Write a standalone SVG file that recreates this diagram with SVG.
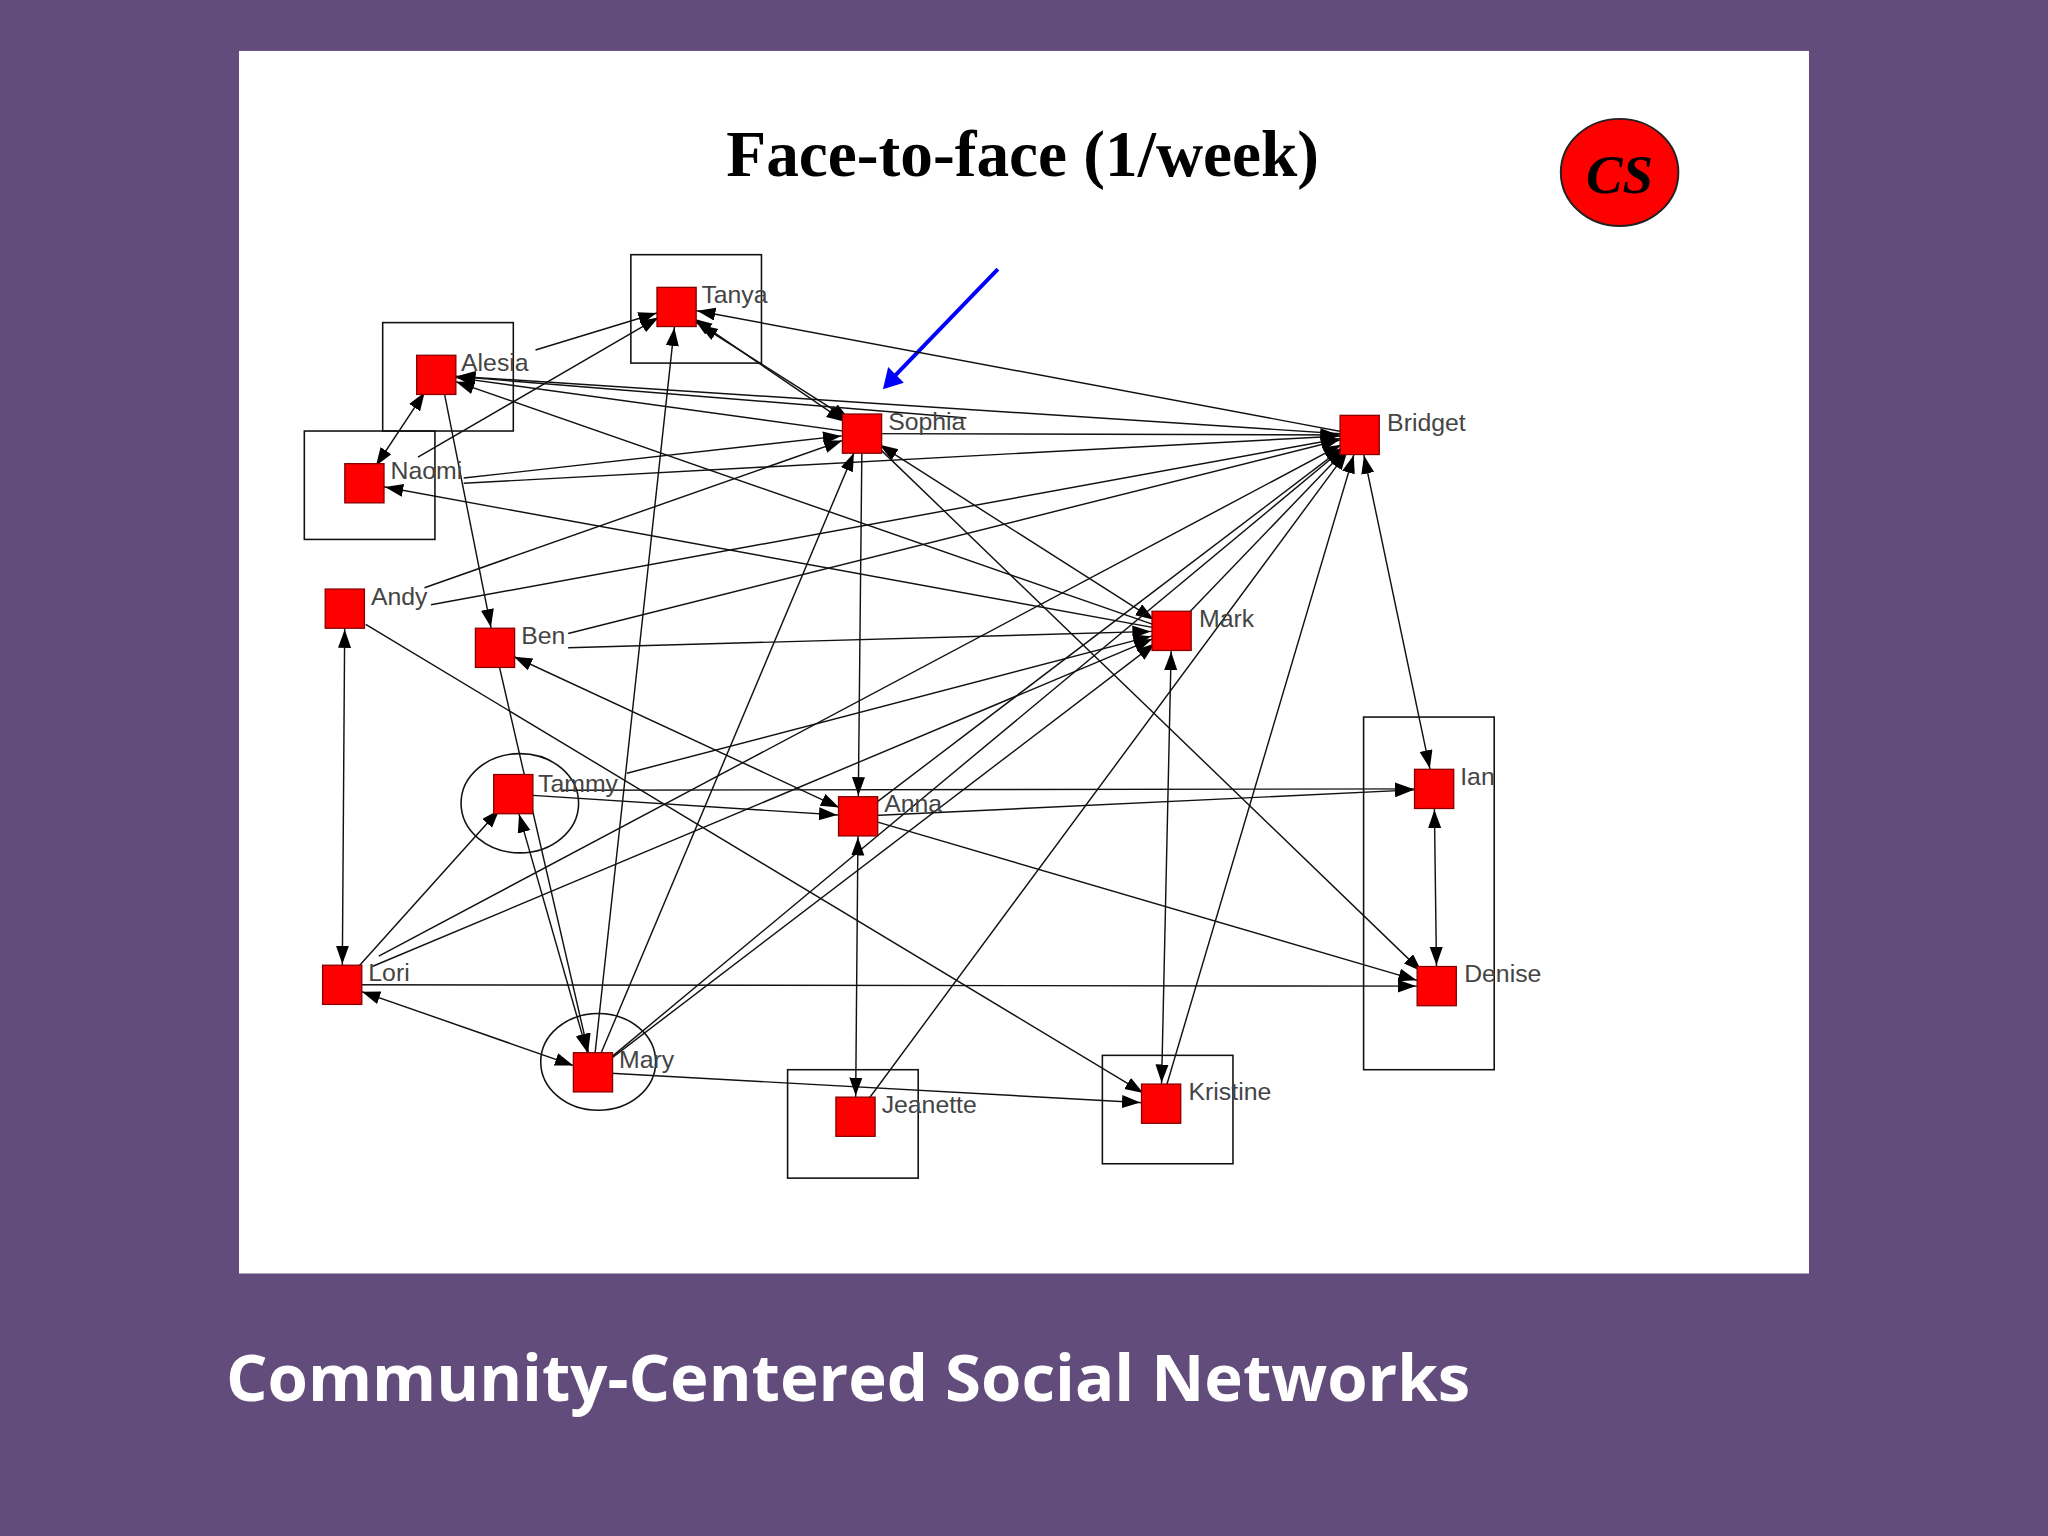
<svg xmlns="http://www.w3.org/2000/svg" width="2048" height="1536" viewBox="0 0 2048 1536">
<style>
.e{stroke:#111;stroke-width:1.1;fill:none;marker-end:url(#ah)}
.b{stroke:#111;stroke-width:1.1;fill:none;marker-end:url(#ah);marker-start:url(#ah)}
.n{fill:#f00;stroke:#800;stroke-width:1}
.l{font-family:"Liberation Sans",Arial,sans-serif;font-size:19px;fill:#444}
.bx{fill:none;stroke:#111;stroke-width:1.2}
</style>
<defs>
<marker id="ah" markerUnits="userSpaceOnUse" markerWidth="40" markerHeight="12" refX="30" refY="5" orient="auto-start-reverse" viewBox="0 0 40 12">
<path d="M0,0 L14,5 L0,10 z" fill="#000"/>
</marker>
</defs>
<rect width="2048" height="1536" fill="#614c7b"/>
<g transform="scale(1.306122)">
<rect x="183" y="39" width="1202" height="936" fill="#fff"/>
<text x="783" y="135" text-anchor="middle" font-family="Liberation Serif,serif" font-weight="bold" font-size="50">Face-to-face  (1/week)</text>
<g id="cs"><ellipse cx="1240" cy="132" rx="45" ry="41" fill="#f00" stroke="#222" stroke-width="1.5"/>
<text x="1240" y="148" text-anchor="middle" font-family="Liberation Serif,serif" font-weight="bold" font-style="italic" font-size="42">CS</text></g>
<g id="blue-arrow"><line x1="764" y1="206" x2="684" y2="289" stroke="#00f" stroke-width="3"/><path d="M676,298 L680,281 L692,293 z" fill="#00f"/></g>
<g id="connectors">
<line class="b" x1="334" y1="287" x2="279" y2="370"/>
<line class="e" x1="340" y1="300" x2="379" y2="496"/>
<line class="e" x1="320" y1="350" x2="518" y2="235"/>
<line class="e" x1="410" y1="268" x2="518" y2="235"/>
<line class="b" x1="518" y1="235" x2="660" y2="332"/>
<line class="b" x1="522" y1="240" x2="664" y2="330"/>
<line class="e" x1="1041" y1="333" x2="518" y2="235"/>
<line class="e" x1="454" y1="821" x2="518" y2="235"/>
<line class="e" x1="660" y1="332" x2="334" y2="287"/>
<line class="e" x1="740" y1="320" x2="334" y2="287"/>
<line class="e" x1="897" y1="483" x2="334" y2="287"/>
<line class="e" x1="1041" y1="333" x2="334" y2="287"/>
<line class="e" x1="355" y1="366" x2="660" y2="332"/>
<line class="e" x1="355" y1="370" x2="1041" y2="333"/>
<line class="e" x1="897" y1="483" x2="279" y2="370"/>
<line class="e" x1="325" y1="450" x2="660" y2="332"/>
<line class="e" x1="330" y1="463" x2="1041" y2="333"/>
<line class="e" x1="280" y1="478" x2="889" y2="845"/>
<line class="b" x1="264" y1="466" x2="262" y2="754"/>
<line class="e" x1="435" y1="485" x2="1041" y2="333"/>
<line class="e" x1="435" y1="496" x2="897" y2="483"/>
<line class="b" x1="379" y1="496" x2="657" y2="625"/>
<line class="e" x1="379" y1="496" x2="454" y2="821"/>
<line class="e" x1="660" y1="332" x2="657" y2="625"/>
<line class="b" x1="660" y1="332" x2="897" y2="483"/>
<line class="e" x1="675" y1="345" x2="1100" y2="755"/>
<line class="e" x1="660" y1="332" x2="1041" y2="333"/>
<line class="e" x1="454" y1="821" x2="660" y2="332"/>
<line class="e" x1="480" y1="592" x2="897" y2="483"/>
<line class="e" x1="393" y1="608" x2="657" y2="625"/>
<line class="b" x1="393" y1="608" x2="454" y2="821"/>
<line class="e" x1="262" y1="754" x2="393" y2="608"/>
<line class="e" x1="285" y1="740" x2="897" y2="483"/>
<line class="e" x1="290" y1="732" x2="1041" y2="333"/>
<line class="e" x1="262" y1="754" x2="1100" y2="755"/>
<line class="b" x1="262" y1="754" x2="454" y2="821"/>
<line class="e" x1="454" y1="821" x2="1041" y2="333"/>
<line class="e" x1="454" y1="821" x2="897" y2="483"/>
<line class="e" x1="454" y1="821" x2="889" y2="845"/>
<line class="e" x1="657" y1="625" x2="1098" y2="604"/>
<line class="b" x1="657" y1="625" x2="655" y2="855"/>
<line class="e" x1="657" y1="625" x2="1041" y2="333"/>
<line class="e" x1="657" y1="625" x2="1100" y2="755"/>
<line class="b" x1="897" y1="483" x2="889" y2="845"/>
<line class="b" x1="1041" y1="333" x2="1098" y2="604"/>
<line class="b" x1="1098" y1="604" x2="1100" y2="755"/>
<line class="e" x1="889" y1="845" x2="1041" y2="333"/>
<line class="e" x1="655" y1="855" x2="1041" y2="333"/>
<line class="e" x1="897" y1="483" x2="1041" y2="333"/>
<line class="e" x1="430" y1="605" x2="1098" y2="604"/>
</g>
<g id="boxes">
<rect class="bx" x="483" y="195" width="100" height="83"/>
<rect class="bx" x="293" y="247" width="100" height="83"/>
<rect class="bx" x="233" y="330" width="100" height="83"/>
<rect class="bx" x="1044" y="549" width="100" height="270"/>
<rect class="bx" x="603" y="819" width="100" height="83"/>
<rect class="bx" x="844" y="808" width="100" height="83"/>
<ellipse class="bx" cx="398" cy="615" rx="45" ry="38"/>
<ellipse class="bx" cx="458" cy="813" rx="44" ry="37"/>
</g>
<g id="Tanya"><rect class="n" x="503" y="220" width="30" height="30"/><text class="l" x="537" y="232">Tanya</text></g>
<g id="Alesia"><rect class="n" x="319" y="272" width="30" height="30"/><text class="l" x="353" y="284">Alesia</text></g>
<g id="Naomi"><rect class="n" x="264" y="355" width="30" height="30"/><text class="l" x="299" y="367">Naomi</text></g>
<g id="Sophia"><rect class="n" x="645" y="317" width="30" height="30"/><text class="l" x="680" y="329">Sophia</text></g>
<g id="Bridget"><rect class="n" x="1026" y="318" width="30" height="30"/><text class="l" x="1062" y="330">Bridget</text></g>
<g id="Andy"><rect class="n" x="249" y="451" width="30" height="30"/><text class="l" x="284" y="463">Andy</text></g>
<g id="Ben"><rect class="n" x="364" y="481" width="30" height="30"/><text class="l" x="399" y="493">Ben</text></g>
<g id="Mark"><rect class="n" x="882" y="468" width="30" height="30"/><text class="l" x="918" y="480">Mark</text></g>
<g id="Tammy"><rect class="n" x="378" y="593" width="30" height="30"/><text class="l" x="412" y="606">Tammy</text></g>
<g id="Anna"><rect class="n" x="642" y="610" width="30" height="30"/><text class="l" x="677" y="622">Anna</text></g>
<g id="Ian"><rect class="n" x="1083" y="589" width="30" height="30"/><text class="l" x="1118" y="601">Ian</text></g>
<g id="Lori"><rect class="n" x="247" y="739" width="30" height="30"/><text class="l" x="282" y="751">Lori</text></g>
<g id="Denise"><rect class="n" x="1085" y="740" width="30" height="30"/><text class="l" x="1121" y="752">Denise</text></g>
<g id="Mary"><rect class="n" x="439" y="806" width="30" height="30"/><text class="l" x="474" y="818">Mary</text></g>
<g id="Jeanette"><rect class="n" x="640" y="840" width="30" height="30"/><text class="l" x="675" y="852">Jeanette</text></g>
<g id="Kristine"><rect class="n" x="874" y="830" width="30" height="30"/><text class="l" x="910" y="842">Kristine</text></g>
<text x="173" y="1073" font-family="Open Sans,sans-serif" font-weight="bold" font-size="50" fill="#fff">Community-Centered Social Networks</text>
</g>
</svg>
